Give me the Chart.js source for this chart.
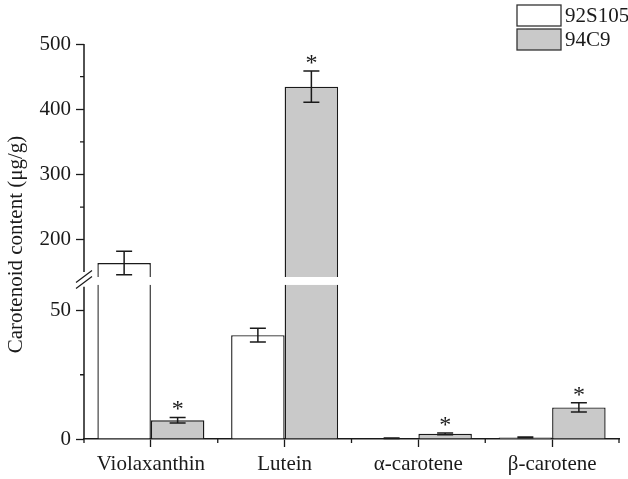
<!DOCTYPE html>
<html>
<head>
<meta charset="utf-8">
<script src="https://cdn.jsdelivr.net/npm/chart.js@4.4.0/dist/chart.umd.min.js"></script>
<style>
    html, body { margin: 0; padding: 0; background: #fff; }
</style>
</head>
<body>
<canvas id="chart" width="628" height="479"></canvas>
<script>
// Carotenoid content, two lines, broken y axis

const categories = ['Violaxanthin', 'Lutein', 'α-carotene', 'β-carotene'];
const seriesNames = ['92S105', '94C9'];
const values92 = [164.5, 40.4, 0.25, 0.6];
const errors92 = [18, 2.7, 0.1, 0.15];
const values94 = [7.3, 434.6, 2.0, 12.3];
const errors94 = [1.1, 24, 0.3, 1.8];
const signif94 = [true, true, true, true];

const lowTicks = [0, 50];
const lowMinor = [25];
const highTicks = [200, 300, 400, 500];
const highMinor = [250, 350, 450];

// axis break: lower segment 0..63 (bars cut at 60), upper segment 143..500
const LOW_MAX = 63;
const LOW_CUT = 60;
const HIGH_MIN = 143;
const HIGH_MAX = 500;

const INK = '#1a1a1a';
const GREY = '#c9c9c9';
const FONT = "'Liberation Serif', 'Times New Roman', serif";

Chart.defaults.font.family = FONT;
Chart.defaults.font.size = 21;
Chart.defaults.color = INK;

function lowPart(vals) {
    return vals.map(v => Math.min(v, LOW_CUT));
}

function highPart(vals) {
    return vals.map(v => v > HIGH_MIN ? [HIGH_MIN, v] : null);
}

function lowBorder(ctx) {
    const cut = typeof ctx.raw === 'number' && ctx.raw >= LOW_CUT;
    return { top: cut ? 0 : 1.4, left: 1.4, right: 1.4, bottom: 0 };
}

const breakPlugin = {
    id: 'brokenAxis',
    afterDraw(chart) {
        const ctx = chart.ctx;
        const area = chart.chartArea;
        const x = chart.scales.x;
        const yLow = chart.scales.yLow;
        const yHigh = chart.scales.yHigh;
        const ax = area.left;

        ctx.save();
        ctx.strokeStyle = INK;
        ctx.lineWidth = 1.5;

        // y axis line with a gap at the break
        const gapTop = yHigh.getPixelForValue(HIGH_MIN) - 5;
        const gapBottom = yLow.getPixelForValue(LOW_CUT) + 2;
        ctx.beginPath();
        ctx.moveTo(ax, yHigh.top);
        ctx.lineTo(ax, gapTop);
        ctx.moveTo(ax, gapBottom);
        ctx.lineTo(ax, yLow.bottom);
        ctx.stroke();

        // the two slanted break marks
        const yc = (gapTop + gapBottom) / 2;
        ctx.lineWidth = 1.2;
        ctx.beginPath();
        [-3, 3].forEach(d => {
            ctx.moveTo(ax - 8, yc + 6 + d);
            ctx.lineTo(ax + 8, yc - 6 + d);
        });
        ctx.stroke();

        // short minor ticks
        ctx.lineWidth = 1.3;
        ctx.beginPath();
        lowMinor.forEach(v => {
            const py = yLow.getPixelForValue(v);
            ctx.moveTo(ax - 4, py);
            ctx.lineTo(ax, py);
        });
        highMinor.forEach(v => {
            const py = yHigh.getPixelForValue(v);
            ctx.moveTo(ax - 4, py);
            ctx.lineTo(ax, py);
        });
        for (let i = 0; i <= categories.length; i++) {
            const px = x.getPixelForValue(i - 0.5);
            ctx.moveTo(px, area.bottom);
            ctx.lineTo(px, area.bottom + 4);
        }
        ctx.stroke();

        // error bars and significance stars
        const groups = [
            { meta: chart.getDatasetMeta(0), vals: values92, errs: errors92, stars: null },
            { meta: chart.getDatasetMeta(1), vals: values94, errs: errors94, stars: signif94 }
        ];
        ctx.lineWidth = 1.5;
        ctx.fillStyle = INK;
        ctx.font = '24px ' + FONT;
        ctx.textAlign = 'center';
        ctx.textBaseline = 'alphabetic';
        groups.forEach(g => {
            g.vals.forEach((v, i) => {
                const bar = g.meta.data[i];
                const s = v > LOW_CUT ? yHigh : yLow;
                const cx = bar.x;
                const top = s.getPixelForValue(v + g.errs[i]);
                const bottom = s.getPixelForValue(v - g.errs[i]);
                ctx.beginPath();
                ctx.moveTo(cx, top);
                ctx.lineTo(cx, bottom);
                ctx.moveTo(cx - 8, top);
                ctx.lineTo(cx + 8, top);
                ctx.moveTo(cx - 8, bottom);
                ctx.lineTo(cx + 8, bottom);
                ctx.stroke();
                if (g.stars && g.stars[i]) {
                    ctx.fillText('*', cx, top - 1);
                }
            });
        });

        // legend, top right
        ctx.font = '21px ' + FONT;
        ctx.textAlign = 'left';
        ctx.textBaseline = 'middle';
        ctx.lineWidth = 1.3;
        [chart.data.datasets[0], chart.data.datasets[1]].forEach((ds, k) => {
            const bx = 517;
            const by = 5 + k * 24;
            ctx.fillStyle = ds.backgroundColor;
            ctx.fillRect(bx, by, 44, 21);
            ctx.strokeStyle = '#333';
            ctx.strokeRect(bx, by, 44, 21);
            ctx.fillStyle = INK;
            ctx.fillText(ds.label, bx + 48, by + 11);
        });

        // y axis title
        ctx.save();
        ctx.translate(16, (area.top + area.bottom) / 2 + 3);
        ctx.rotate(-Math.PI / 2);
        ctx.textAlign = 'center';
        ctx.textBaseline = 'middle';
        ctx.fillText('Carotenoid content (μg/g)', 0, 0);
        ctx.restore();

        ctx.restore();
    }
};

const yCommon = {
    position: 'left',
    stack: 'broken',
    stacked: false,
    border: { display: false },
    afterFit: scale => { scale.width = 84; }
};

new Chart(document.getElementById('chart'), {
    type: 'bar',
    data: {
        labels: categories,
        datasets: [
            {
                label: seriesNames[0],
                data: lowPart(values92),
                yAxisID: 'yLow',
                stack: 's92',
                backgroundColor: '#ffffff',
                borderColor: INK,
                borderWidth: lowBorder
            },
            {
                label: seriesNames[1],
                data: lowPart(values94),
                yAxisID: 'yLow',
                stack: 's94',
                backgroundColor: GREY,
                borderColor: INK,
                borderWidth: lowBorder
            },
            {
                label: seriesNames[0] + ' high',
                data: highPart(values92),
                yAxisID: 'yHigh',
                stack: 's92',
                backgroundColor: '#ffffff',
                borderColor: INK,
                borderWidth: 1.4,
                borderSkipped: 'start'
            },
            {
                label: seriesNames[1] + ' high',
                data: highPart(values94),
                yAxisID: 'yHigh',
                stack: 's94',
                backgroundColor: GREY,
                borderColor: INK,
                borderWidth: 1.4,
                borderSkipped: 'start'
            }
        ]
    },
    options: {
        responsive: false,
        animation: false,
        categoryPercentage: 0.8,
        barPercentage: 1.0,
        layout: {
            padding: { top: 44, right: 9, bottom: 0, left: 0 }
        },
        plugins: {
            legend: { display: false },
            tooltip: { enabled: false }
        },
        scales: {
            x: {
                type: 'category',
                grid: {
                    offset: false,
                    drawOnChartArea: false,
                    tickLength: 8,
                    tickColor: INK,
                    tickWidth: 1.3
                },
                border: { color: INK, width: 1.5 },
                ticks: { color: INK, padding: 5 },
                afterFit: scale => { scale.height = 40; }
            },
            yLow: Object.assign({}, yCommon, {
                min: 0,
                max: LOW_MAX,
                stackWeight: 161.7,
                ticks: {
                    stepSize: 25,
                    includeBounds: false,
                    autoSkip: false,
                    padding: 5,
                    color: INK,
                    callback: v => lowTicks.includes(v) ? String(v) : ''
                },
                grid: {
                    drawOnChartArea: false,
                    tickLength: 8,
                    tickWidth: 1.3,
                    tickColor: c => lowTicks.includes(c.tick.value) ? INK : 'rgba(0,0,0,0)'
                }
            }),
            yHigh: Object.assign({}, yCommon, {
                min: HIGH_MIN,
                max: HIGH_MAX,
                stackWeight: 232.7,
                ticks: {
                    stepSize: 50,
                    includeBounds: false,
                    autoSkip: false,
                    padding: 5,
                    color: INK,
                    callback: v => highTicks.includes(v) ? String(v) : ''
                },
                grid: {
                    drawOnChartArea: false,
                    tickLength: 8,
                    tickWidth: 1.3,
                    tickColor: c => highTicks.includes(c.tick.value) ? INK : 'rgba(0,0,0,0)'
                }
            })
        }
    },
    plugins: [breakPlugin]
});
</script>
</body>
</html>
